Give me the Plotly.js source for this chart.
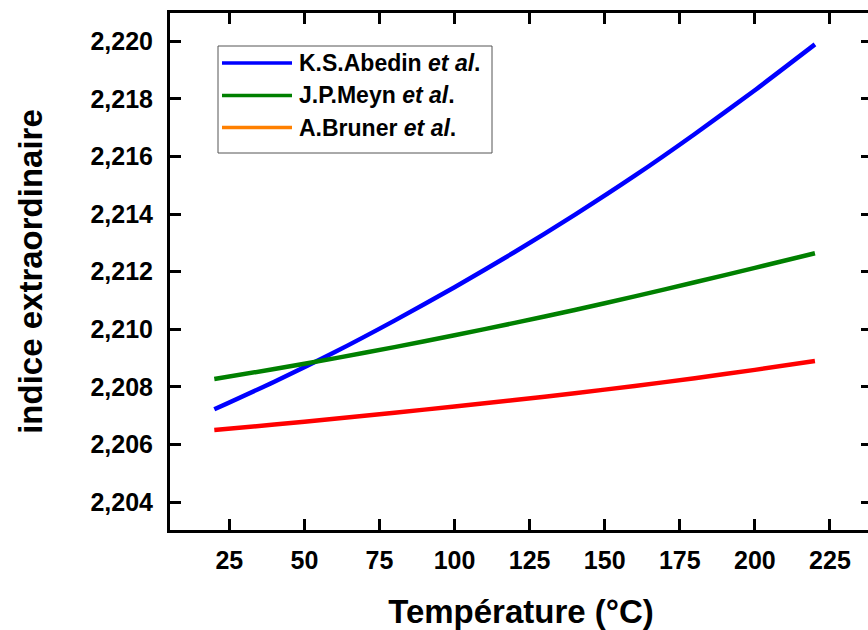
<!DOCTYPE html>
<html>
<head>
<meta charset="utf-8">
<script src="https://cdn.plot.ly/plotly-3.0.1.min.js"></script>
<style>
  html, body { margin: 0; padding: 0; overflow: hidden; background: #fff; }
  #chart { width: 880px; height: 630px; }
</style>
</head>
<body>
<div id="chart"></div>
<script>
// ---- data ----
const temperature = [20, 40, 60, 80, 100, 120, 140, 160, 180, 200, 220];
const abedin = [2.20722, 2.20818, 2.20920, 2.21030, 2.21146, 2.21268, 2.21397, 2.21533, 2.21678, 2.21830, 2.21989];
const meyn   = [2.20827, 2.20862, 2.20899, 2.20938, 2.20979, 2.21022, 2.21067, 2.21114, 2.21163, 2.21213, 2.21264];
const bruner = [2.20650, 2.20669, 2.20689, 2.20710, 2.20732, 2.20754, 2.20778, 2.20803, 2.20830, 2.20859, 2.20890];
const seriesNames = ["K.S.Abedin", "J.P.Meyn", "A.Bruner"];
const xTitle = "Température (°C)";
const yTitle = "indice extraordinaire";

// ---- layout geometry ----
const W = 880, H = 630;
const L = 170, R = 8, T = 13, B = 100;
const plotW = W - L - R, plotH = H - T - B;
const px = x => (x - L) / plotW;
const py = y => (H - B - y) / plotH;

const FONT = "Liberation Sans, Arial, sans-serif";
const lineColors = ["#0000ff", "#008000", "#ff0000"];
const legendColors = ["#0000ff", "#008000", "#ff8000"];

const traces = [abedin, meyn, bruner].map((vals, i) => ({
  x: temperature, y: vals, type: "scatter", mode: "lines",
  name: seriesNames[i], showlegend: false,
  line: { color: lineColors[i], width: 4.5, shape: "spline", smoothing: 0.6 }
}));

// manual legend (box, line samples, labels)
const shapes = [{
  type: "rect", xref: "paper", yref: "paper",
  x0: px(218), x1: px(492), y0: py(153), y1: py(46),
  line: { color: "#555", width: 1 }, fillcolor: "rgba(0,0,0,0)"
}];
const annotations = [];
const rowY = [63, 95.5, 127.5];
seriesNames.forEach((n, i) => {
  shapes.push({
    type: "line", xref: "paper", yref: "paper",
    x0: px(222), x1: px(292), y0: py(rowY[i]), y1: py(rowY[i]),
    line: { color: legendColors[i], width: 3.5 }
  });
  annotations.push({
    xref: "paper", yref: "paper", x: px(297), y: py(rowY[i]),
    xanchor: "left", yanchor: "middle", showarrow: false,
    text: "<b>" + n + " <i>et al</i>.</b>",
    font: { family: FONT, size: 23, color: "#000" }
  });
});

const axisCommon = {
  showline: true, linecolor: "#000", linewidth: 3, mirror: "ticks",
  ticks: "inside", ticklen: 11, tickwidth: 3, tickcolor: "#000",
  showgrid: false, zeroline: false,
  tickfont: { family: FONT, size: 25, color: "#000", weight: "bold" }
};

const layout = {
  width: W, height: H,
  margin: { l: L, r: R, t: T, b: B, pad: 0 },
  paper_bgcolor: "#fff", plot_bgcolor: "#fff",
  separators: ", ",
  showlegend: false,
  xaxis: Object.assign({}, axisCommon, {
    range: [5.25, 239.0], tick0: 0, dtick: 25,
    ticklabelstandoff: 6,
    title: { text: xTitle, standoff: 27, font: { family: FONT, size: 33, color: "#000", weight: "bold" } }
  }),
  yaxis: Object.assign({}, axisCommon, {
    range: [2.20303, 2.22098], tick0: 2.2, dtick: 0.002, tickformat: ".3f",
    ticklabelstandoff: 9,
    title: { text: yTitle, standoff: 38, font: { family: FONT, size: 33, color: "#000", weight: "bold" } }
  }),
  shapes: shapes,
  annotations: annotations
};

Plotly.newPlot("chart", traces, layout, { displayModeBar: false, staticPlot: true });
</script>
</body>
</html>
